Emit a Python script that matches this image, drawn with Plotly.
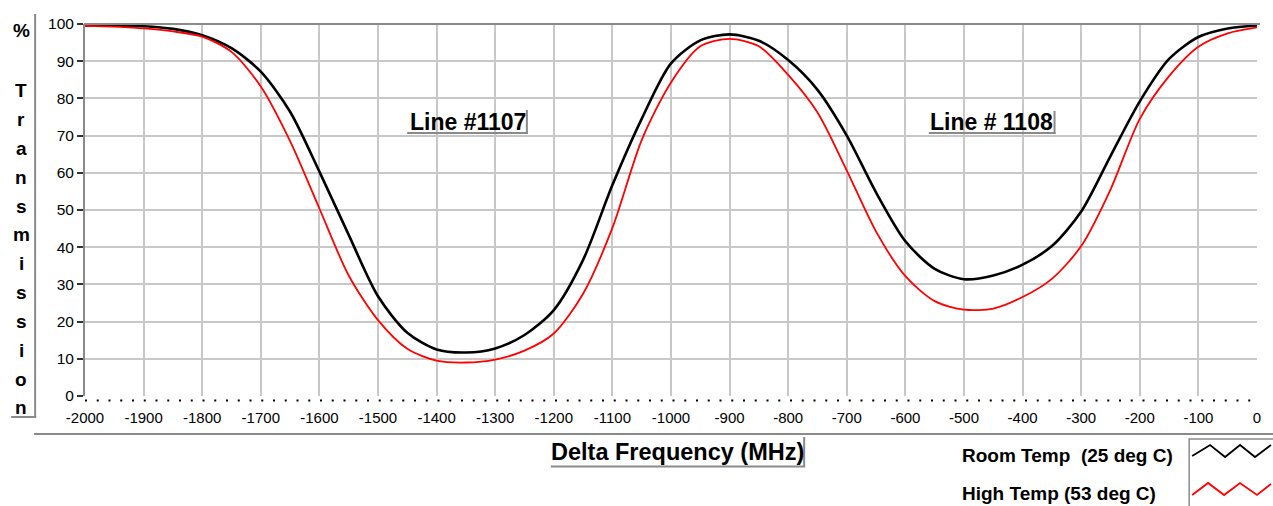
import plotly.graph_objects as go

# ---------------- data ----------------
freq_mhz = [-2000, -1950, -1900, -1850, -1800, -1750, -1700, -1650, -1600, -1550,
            -1500, -1450, -1400, -1350, -1300, -1250, -1200, -1150, -1100, -1050,
            -1000, -950, -900, -850, -800, -750, -700, -650, -600, -550,
            -500, -450, -400, -350, -300, -250, -200, -150, -100, -50, 0]

room_temp = [99.6, 99.6, 99.4, 98.7, 97.0, 93.5, 87.2, 76.4, 60.3, 43.3,
             26.8, 17.0, 12.5, 11.7, 12.8, 16.4, 23.1, 36.6, 56.7, 74.5,
             89.4, 95.6, 97.2, 95.5, 90.3, 82.3, 70.0, 54.7, 41.6, 34.2,
             31.4, 32.4, 35.3, 40.3, 49.6, 64.5, 79.2, 90.6, 96.5, 98.8, 99.6]

high_temp = [99.5, 99.3, 98.8, 98.0, 96.6, 92.5, 83.2, 68.5, 50.4, 32.4,
             20.4, 12.7, 9.5, 9.0, 9.8, 12.2, 16.8, 27.5, 45.2, 68.8,
             84.3, 94.0, 96.0, 94.0, 86.3, 76.2, 60.6, 44.2, 32.2, 25.5,
             23.2, 23.5, 26.6, 31.5, 40.3, 55.5, 74.5, 86.0, 93.9, 97.5, 99.1]

series_names = ["Room Temp  (25 deg C)", "High Temp (53 deg C)"]
series_colors = ["#000000", "#ff0000"]

x_ticks = [-2000, -1900, -1800, -1700, -1600, -1500, -1400, -1300, -1200, -1100,
           -1000, -900, -800, -700, -600, -500, -400, -300, -200, -100, 0]
y_ticks = [0, 10, 20, 30, 40, 50, 60, 70, 80, 90, 100]

line_labels = ["Line #1107", "Line # 1108"]
x_title = "Delta Frequency (MHz)"
y_title_letters = ["%", "T", "r", "a", "n", "s", "m", "i", "s", "s", "i", "o", "n"]

# ---------------- layout helpers (pixel -> paper) ----------------
W, H = 1273, 506
ML, MR, MT, MB = 85, 13, 24, 110
PW = W - ML - MR
PH = H - MT - MB
def px(p):
    return (p - ML) / PW
def py(p):
    return (MT + PH - p) / PH

FONT = "Liberation Sans, Arial, Helvetica, sans-serif"
GRAY = "#8a8a8a"

fig = go.Figure()
fig.add_trace(go.Scatter(x=freq_mhz, y=room_temp, mode="lines", name=series_names[0],
                         line=dict(color=series_colors[0], width=2.6, shape="spline", smoothing=0.8),
                         showlegend=False))
fig.add_trace(go.Scatter(x=freq_mhz, y=high_temp, mode="lines", name=series_names[1],
                         line=dict(color=series_colors[1], width=1.8, shape="spline", smoothing=0.8),
                         showlegend=False))

annotations = []
# y-axis title as stacked letters
letter_y = [31] + [91 + k * 28.8 for k in range(len(y_title_letters) - 1)]
for ch, yy in zip(y_title_letters, letter_y):
    annotations.append(dict(text=ch, x=px(21), y=py(yy), xref="paper", yref="paper",
                            xanchor="center", yanchor="middle", showarrow=False,
                            font=dict(family=FONT, size=19, color="black", weight="bold")))
# x-axis title
annotations.append(dict(text=x_title, x=px(679), y=py(452), xref="paper", yref="paper",
                        xanchor="center", yanchor="middle", showarrow=False,
                        font=dict(family=FONT, size=23.5, color="black", weight="bold")))
# line labels
for lab, cx in zip(line_labels, [468.5, 993.5]):
    annotations.append(dict(text=lab, x=px(cx), y=py(122), xref="paper", yref="paper",
                            xanchor="center", yanchor="middle", showarrow=False,
                            font=dict(family=FONT, size=23, color="black", weight="bold")))
# legend texts
for name, yy in zip(series_names, [455, 493]):
    annotations.append(dict(text=name.replace("  ", "&nbsp; "), x=px(962), y=py(yy),
                            xref="paper", yref="paper", xanchor="left", yanchor="middle",
                            showarrow=False,
                            font=dict(family=FONT, size=19, color="black", weight="bold")))

def hline(x0, x1, y, color=GRAY, width=2, dash="solid"):
    return dict(type="line", xref="paper", yref="paper", x0=px(x0), x1=px(x1),
                y0=py(y), y1=py(y), line=dict(color=color, width=width, dash=dash))
def vline(x, y0, y1, color=GRAY, width=2):
    return dict(type="line", xref="paper", yref="paper", x0=px(x), x1=px(x),
                y0=py(y0), y1=py(y1), line=dict(color=color, width=width))

shapes = [
    hline(84, 1263, 24),                     # top border
    vline(35, 14, 418), hline(11, 36, 417),  # y-title shadow box
    hline(34, 1280, 434),                    # separator line
    vline(806, 437, 467), hline(552, 807, 466.5),   # x-title shadow
    vline(528, 110, 134), hline(408, 529, 133),     # Line #1107 shadow
    vline(1057, 111, 134), hline(931, 1058, 133),   # Line # 1108 shadow
    hline(85, 1263, 400.5, color="black", width=2, dash="2px,9.75px"),  # dotted axis
    dict(type="rect", xref="paper", yref="paper", x0=px(1192), x1=px(1290),
         y0=py(439), y1=py(520), line=dict(color=GRAY, width=1.5)),
]
def zig(points, color, width):
    path = "M " + " L ".join(f"{px(a):.5f},{py(b):.5f}" for a, b in points)
    return dict(type="path", xref="paper", yref="paper", path=path,
                line=dict(color=color, width=width))
shapes.append(zig([(1195, 456), (1213, 445), (1228, 457), (1243, 445), (1258, 457), (1274, 445)],
                  series_colors[0], 1.8))
shapes.append(zig([(1195, 495), (1211, 483), (1227, 495), (1243, 483), (1260, 495), (1274, 484)],
                  series_colors[1], 1.8))

fig.update_layout(
    width=W, height=H,
    margin=dict(l=ML, r=MR, t=MT, b=MB, pad=0),
    paper_bgcolor="white", plot_bgcolor="white",
    font=dict(family=FONT, color="black"),
    annotations=annotations, shapes=shapes,
    xaxis=dict(range=[-2000, 0], tickvals=x_ticks, ticktext=[str(v) for v in x_ticks],
               showgrid=True, gridcolor="#c8c8c8", gridwidth=1.5, zeroline=False,
               showline=False, ticks="", tickfont=dict(size=15, family=FONT, color="black"),
               ticklabelstandoff=11),
    yaxis=dict(range=[0, 100], tickvals=y_ticks, showgrid=True, gridcolor="#c8c8c8",
               gridwidth=1.5, zeroline=False, showline=True, linecolor=GRAY, linewidth=2,
               ticks="outside", ticklen=6, tickwidth=2, tickcolor="#333",
               tickfont=dict(size=15.5, family=FONT, color="black")),
)

fig.write_html("out.html", config={"displayModeBar": False},
               post_script="document.body.style.margin='0';document.body.style.overflow='hidden';")
